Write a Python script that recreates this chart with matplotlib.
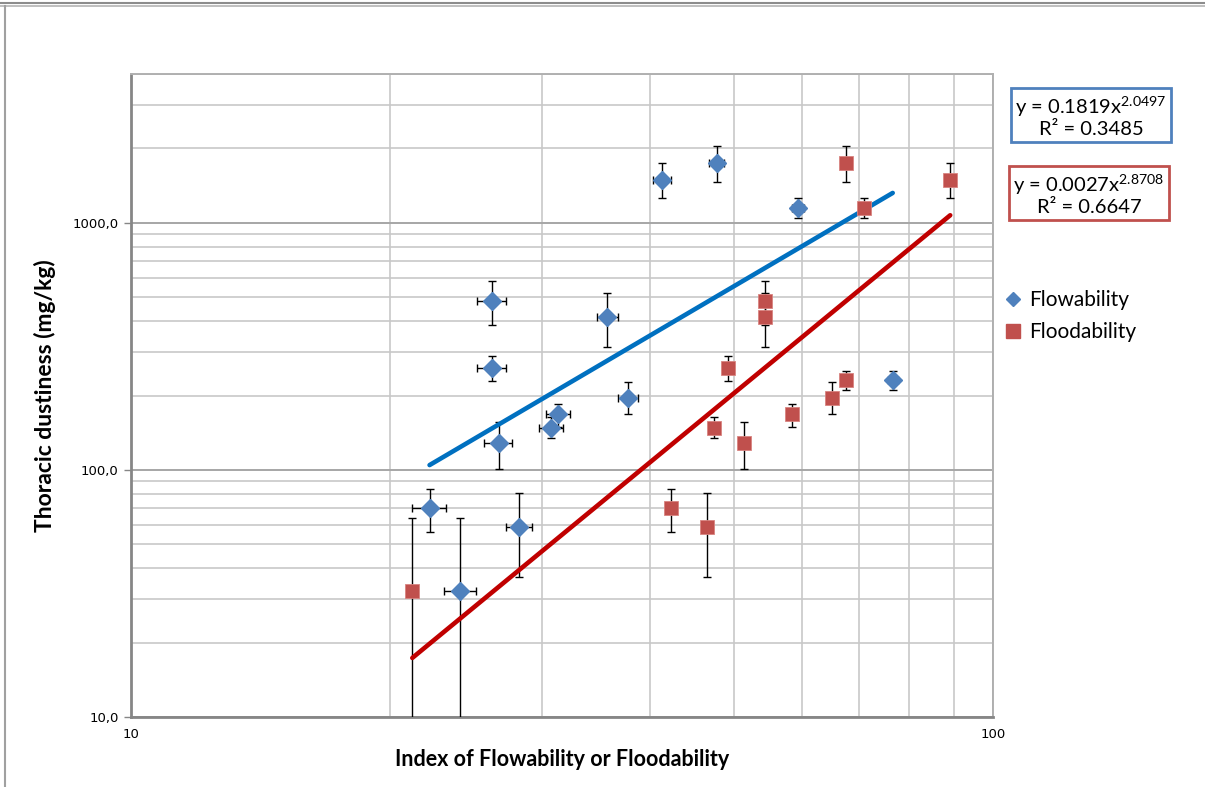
import numpy as np
import matplotlib
matplotlib.use("Agg")
import matplotlib.pyplot as plt
from matplotlib.lines import Line2D
from matplotlib.ticker import FixedLocator, LogLocator, NullFormatter

plt.rcParams['font.family'] = ['Lato', 'DejaVu Sans']
plt.rcParams['mathtext.fontset'] = 'custom'
plt.rcParams['mathtext.rm'] = 'Lato'

# thoracic dustiness (mg/kg) with error bar limits, one entry per material
dustiness = [70, 32.4, 58.7, 484, 259, 129, 168, 148, 417, 196, 1493, 1752, 1147, 231]
dust_low = [56, 5, 37, 384, 228, 101, 149, 134, 315, 169, 1259, 1466, 1050, 211]
dust_high = [84, 64, 81, 583, 290, 156, 185, 163, 521, 226, 1738, 2047, 1259, 252]

# index values
flowability = [22.2, 24.1, 28.2, 26.2, 26.2, 26.7, 31.3, 30.7, 35.7, 37.7, 41.3, 47.8, 59.4, 76.5]
flow_xerr = [1.0] * 14
floodability = [42.3, 21.2, 46.6, 54.4, 49.3, 51.4, 58.4, 47.4, 54.4, 65.0, 89.2, 67.5, 70.9, 67.5]

# power trend lines shown on the chart
flow_fit = (0.1819, 2.0497, 0.3485)
flood_fit = (0.0027, 2.8708, 0.6647)

blue = '#4F81BD'
red = '#C0504D'

fig = plt.figure(figsize=(12.05, 7.87), dpi=100)
ax = fig.add_axes([131 / 1205, 1 - 717 / 787, (993 - 131) / 1205, (717 - 74) / 787])

y = np.array(dustiness)
yerr = [y - np.array(dust_low), np.array(dust_high) - y]

# error bars
ax.errorbar(flowability, dustiness, xerr=flow_xerr, yerr=yerr, fmt='none',
            ecolor='black', elinewidth=1, capsize=2.8, capthick=1, zorder=3)
ax.errorbar(floodability, dustiness, yerr=yerr, fmt='none',
            ecolor='black', elinewidth=1, capsize=2.8, capthick=1, zorder=3)

# trend lines
xf = np.linspace(min(flowability), max(flowability), 100)
ax.plot(xf, flow_fit[0] * xf ** flow_fit[1], color='#0070C0', lw=3.3, zorder=4,
        solid_capstyle='round')
xd = np.linspace(min(floodability), max(floodability), 100)
ax.plot(xd, flood_fit[0] * xd ** flood_fit[1], color='#C00000', lw=3.3, zorder=4,
        solid_capstyle='round')

# points
ax.plot(flowability, dustiness, 'D', color=blue, ms=9, mec=blue, zorder=5,
        label='Flowability')
ax.plot(floodability, dustiness, 's', color=red, ms=9.4, mec='#D88480', mew=0.6,
        zorder=5, label='Floodability')

ax.set_xscale('log')
ax.set_yscale('log')
ax.set_xlim(10, 100)
ax.set_ylim(10, 4000)

ax.xaxis.set_major_locator(FixedLocator([10, 100]))
ax.xaxis.set_minor_locator(LogLocator(base=10, subs=np.arange(2, 10)))
ax.xaxis.set_minor_formatter(NullFormatter())
ax.set_xticklabels(['10', '100'])
ax.yaxis.set_major_locator(FixedLocator([10, 100, 1000]))
ax.yaxis.set_minor_locator(LogLocator(base=10, subs=np.arange(2, 10)))
ax.yaxis.set_minor_formatter(NullFormatter())
ax.set_yticklabels(['10,0', '100,0', '1000,0'])

ax.grid(True, which='major', color='#A6A6A6', lw=1.4)
ax.grid(True, which='minor', color='#C8C8C8', lw=1.2)
ax.set_axisbelow(True)
ax.tick_params(which='minor', length=0)
ax.tick_params(which='major', length=5, width=1, color='#868686',
               labelsize=9.5, pad=4)
for lab in ax.get_xticklabels() + ax.get_yticklabels():
    lab.set_family('DejaVu Sans')
ax.tick_params(axis='x', pad=8)
ax.tick_params(axis='x', which='major', length=0)

for side in ['left', 'bottom']:
    ax.spines[side].set_color('#868686')
    ax.spines[side].set_linewidth(2)
for side in ['top', 'right']:
    ax.spines[side].set_color('#B0B0B0')
    ax.spines[side].set_linewidth(1.4)

ax.set_xlabel('Index of Flowability or Floodability', fontsize=15.5,
              fontweight='bold', labelpad=6)
ax.set_ylabel('Thoracic dustiness (mg/kg)', fontsize=16.5, fontweight='bold',
              labelpad=12)

# equation boxes
fig.text(1091 / 1205, 1 - 116 / 787,
         'y = %.4fx$^{%.4f}$\nR² = %.4f' % flow_fit,
         ha='center', va='center', fontsize=14.5, linespacing=1.1,
         bbox=dict(boxstyle='square,pad=0.22', fc='white', ec=blue, lw=2))
fig.text(1089 / 1205, 1 - 194 / 787,
         'y = %.4fx$^{%.4f}$\nR² = %.4f' % flood_fit,
         ha='center', va='center', fontsize=14.5, linespacing=1.1,
         bbox=dict(boxstyle='square,pad=0.22', fc='white', ec=red, lw=2))

handles = [Line2D([], [], marker='D', ls='none', color=blue, ms=7.5),
           Line2D([], [], marker='s', ls='none', color=red, ms=10)]
fig.legend(handles, ['Flowability', 'Floodability'], loc='upper left',
           bbox_to_anchor=(996 / 1205, 1 - 282 / 787), frameon=False,
           fontsize=15, handlelength=0.8, handletextpad=0.4, labelspacing=0.55,
           borderaxespad=0)

# outer chart frame lines
fig.add_artist(Line2D([0, 1], [1 - 2.5 / 787] * 2, color='#8C8C8C', lw=1.5,
                      transform=fig.transFigure))
fig.add_artist(Line2D([0, 1], [1 - 5.5 / 787] * 2, color='#B4B4B4', lw=1.2,
                      transform=fig.transFigure))
fig.add_artist(Line2D([5 / 1205] * 2, [0, 1 - 6 / 787], color='#A0A0A0', lw=1.5,
                      transform=fig.transFigure))

fig.savefig('out.png', dpi=100)
